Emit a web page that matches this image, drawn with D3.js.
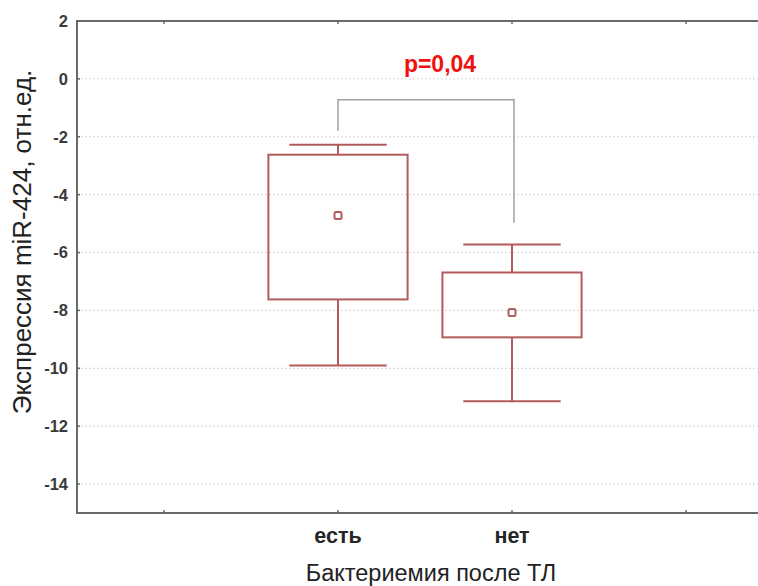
<!DOCTYPE html>
<html>
<head>
<meta charset="utf-8">
<script src="https://cdn.jsdelivr.net/npm/d3@7"></script>
<style>
  body { margin: 0; background: #fff; }
  text { font-family: "Liberation Sans", Arial, sans-serif; }
</style>
</head>
<body>
<div id="chart"></div>
<script>
// data
var categories = ["есть", "нет"];
var whiskerLow = [-9.9, -11.14];
var boxLow = [-7.62, -8.93];
var means = [-4.72, -8.07];
var boxHigh = [-2.62, -6.69];
var whiskerHigh = [-2.28, -5.72];
var yTicks = [2, 0, -2, -4, -6, -8, -10, -12, -14];
var xTicks = [1, 2, 3, 4];
var bracket = { left: -1.79, top: -0.72, right: -4.97 };
var pLabel = "p=0,04";

(function() {
  var width = 758, height = 586;

  var svg = d3.select("#chart").append("svg")
              .attr("width", width)
              .attr("height", height);

  var x = d3.scaleLinear().domain([0.5, 4.5]).range([77, 773]);
  var y = d3.scaleLinear().domain([-15, 2]).range([513, 21]);

  var boxColor = "#b25b5d";

  // dotted grid
  svg.selectAll(".grid").data(yTicks.filter(function(d) { return d < 2; }))
    .enter().append("line")
    .attr("x1", x(0.5)).attr("x2", x(4.5))
    .attr("y1", function(d) { return y(d); })
    .attr("y2", function(d) { return y(d); })
    .attr("stroke", "#d4d4d4")
    .attr("stroke-width", 1)
    .attr("stroke-dasharray", "2,2");

  // frame lines
  svg.append("line").attr("x1", x(0.5)).attr("x2", x(4.5))
    .attr("y1", y(2)).attr("y2", y(2))
    .attr("stroke", "#6a6a6a").attr("stroke-width", 2);
  svg.append("line").attr("x1", x(0.5)).attr("x2", x(4.5))
    .attr("y1", y(-15)).attr("y2", y(-15))
    .attr("stroke", "#6a6a6a").attr("stroke-width", 2);
  svg.append("line").attr("x1", x(0.5)).attr("x2", x(0.5))
    .attr("y1", y(2) - 1).attr("y2", y(-15) + 1)
    .attr("stroke", "#6a6a6a").attr("stroke-width", 2);

  // small inward ticks
  svg.selectAll(".ytick").data(yTicks).enter().append("line")
    .attr("x1", x(0.5)).attr("x2", x(0.5) + 3)
    .attr("y1", function(d) { return y(d); })
    .attr("y2", function(d) { return y(d); })
    .attr("stroke", "#6a6a6a").attr("stroke-width", 1.5);
  svg.selectAll(".xtickb").data(xTicks).enter().append("line")
    .attr("x1", function(d) { return x(d); })
    .attr("x2", function(d) { return x(d); })
    .attr("y1", y(-15)).attr("y2", y(-15) - 3)
    .attr("stroke", "#6a6a6a").attr("stroke-width", 1.5);
  svg.selectAll(".xtickt").data(xTicks).enter().append("line")
    .attr("x1", function(d) { return x(d); })
    .attr("x2", function(d) { return x(d); })
    .attr("y1", y(2)).attr("y2", y(2) + 3)
    .attr("stroke", "#6a6a6a").attr("stroke-width", 1.5);

  // y tick labels
  svg.selectAll(".ylab").data(yTicks).enter().append("text")
    .attr("x", 68)
    .attr("y", function(d) { return y(d); })
    .attr("dy", "0.36em")
    .attr("text-anchor", "end")
    .attr("font-size", 16.5)
    .attr("font-weight", "bold")
    .attr("fill", "#3a3a3a")
    .text(function(d) { return d; });

  // x tick labels
  svg.selectAll(".xlab").data(categories).enter().append("text")
    .attr("x", function(d, i) { return x(i + 2); })
    .attr("y", 543)
    .attr("text-anchor", "middle")
    .attr("font-size", 21.5)
    .attr("font-weight", "bold")
    .attr("fill", "#262626")
    .text(function(d) { return d; });

  // axis titles
  svg.append("text")
    .attr("x", 431).attr("y", 581)
    .attr("text-anchor", "middle")
    .attr("font-size", 23.5)
    .attr("fill", "#222")
    .text("Бактериемия после ТЛ");

  svg.append("text")
    .attr("transform", "translate(31," + 242 + ") rotate(-90)")
    .attr("text-anchor", "middle")
    .attr("font-size", 26)
    .attr("fill", "#222")
    .text("Экспрессия miR-424, отн.ед.");

  // boxes
  var g = svg.selectAll(".box").data(categories).enter().append("g")
    .attr("fill", "none")
    .attr("stroke", boxColor)
    .attr("stroke-width", 2);

  g.append("line")
    .attr("x1", function(d, i) { return x(i + 2); })
    .attr("x2", function(d, i) { return x(i + 2); })
    .attr("y1", function(d, i) { return y(whiskerHigh[i]); })
    .attr("y2", function(d, i) { return y(boxHigh[i]); });
  g.append("line")
    .attr("x1", function(d, i) { return x(i + 2); })
    .attr("x2", function(d, i) { return x(i + 2); })
    .attr("y1", function(d, i) { return y(boxLow[i]); })
    .attr("y2", function(d, i) { return y(whiskerLow[i]); });
  g.append("line")
    .attr("x1", function(d, i) { return x(i + 2 - 0.28); })
    .attr("x2", function(d, i) { return x(i + 2 + 0.28); })
    .attr("y1", function(d, i) { return y(whiskerHigh[i]); })
    .attr("y2", function(d, i) { return y(whiskerHigh[i]); });
  g.append("line")
    .attr("x1", function(d, i) { return x(i + 2 - 0.28); })
    .attr("x2", function(d, i) { return x(i + 2 + 0.28); })
    .attr("y1", function(d, i) { return y(whiskerLow[i]); })
    .attr("y2", function(d, i) { return y(whiskerLow[i]); });
  g.append("rect")
    .attr("x", function(d, i) { return x(i + 2 - 0.4); })
    .attr("width", x(0.8) - x(0))
    .attr("y", function(d, i) { return y(boxHigh[i]); })
    .attr("height", function(d, i) { return y(boxLow[i]) - y(boxHigh[i]); });
  g.append("rect")
    .attr("x", function(d, i) { return x(i + 2) - 3.5; })
    .attr("y", function(d, i) { return y(means[i]) - 3.5; })
    .attr("width", 7).attr("height", 7)
    .attr("rx", 1.5);

  // significance bracket
  var bracketPath = d3.line()([
    [x(2), y(bracket.left)],
    [x(2), y(bracket.top)],
    [x(3) + 2, y(bracket.top)],
    [x(3) + 2, y(bracket.right)]
  ]);
  svg.append("path")
    .attr("d", bracketPath)
    .attr("fill", "none")
    .attr("stroke", "#a0a0a0")
    .attr("stroke-width", 1.5);

  svg.append("text")
    .attr("x", 440).attr("y", 72)
    .attr("text-anchor", "middle")
    .attr("font-size", 23)
    .attr("font-weight", "bold")
    .attr("fill", "#f01010")
    .text(pLabel);
})();
</script>
</body>
</html>
